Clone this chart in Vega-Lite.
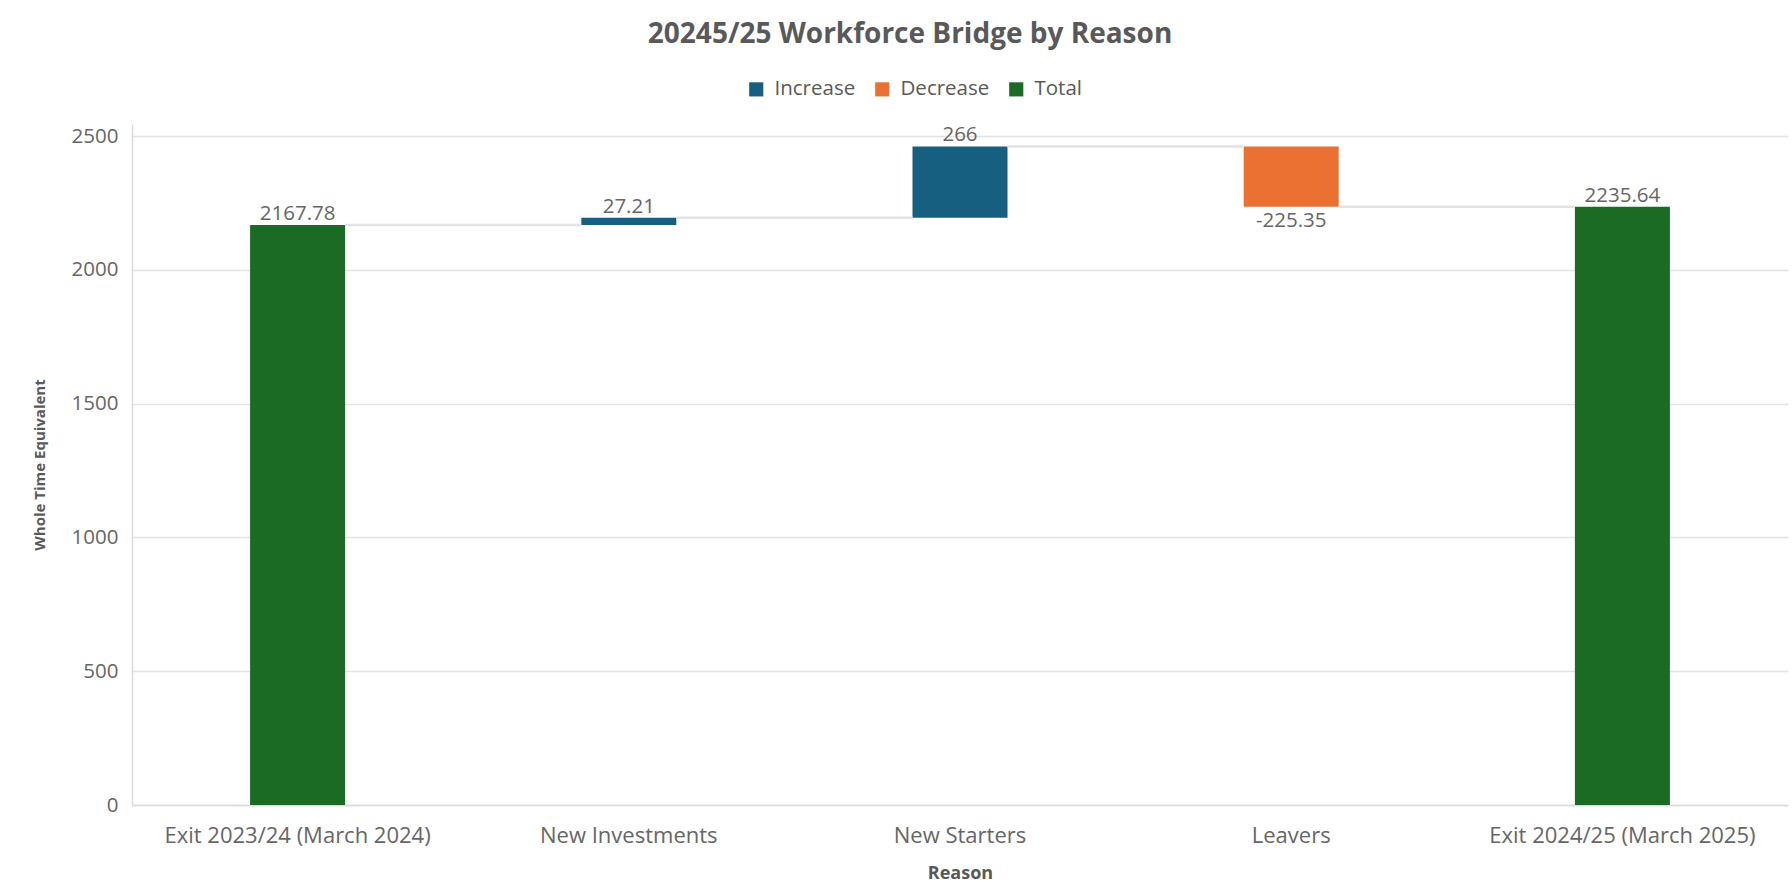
{
  "$schema": "https://vega.github.io/schema/vega-lite/v6.json",
  "autosize": {"type": "none"},
  "width": 1656,
  "height": 681,
  "padding": {"left": 132, "top": 124, "right": 4, "bottom": 88},
  "background": "white",
  "title": {
    "text": "20245/25 Workforce Bridge by Reason",
    "font": "Open Sans",
    "fontSize": 28,
    "fontWeight": "bold",
    "color": "#595959",
    "anchor": "middle",
    "frame": "bounds",
    "offset": 30
  },
  "datasets": {
    "bars": [
      {"Reason": "Exit 2023/24 (March 2024)", "type": "Total", "start": 0, "end": 2167.78, "label": "2167.78", "pos": "above"},
      {"Reason": "New Investments", "type": "Increase", "start": 2167.78, "end": 2194.99, "label": "27.21", "pos": "above"},
      {"Reason": "New Starters", "type": "Increase", "start": 2194.99, "end": 2460.99, "label": "266", "pos": "above"},
      {"Reason": "Leavers", "type": "Decrease", "start": 2460.99, "end": 2235.64, "label": "-225.35", "pos": "below"},
      {"Reason": "Exit 2024/25 (March 2025)", "type": "Total", "start": 0, "end": 2235.64, "label": "2235.64", "pos": "above"}
    ],
    "links": [
      {"from": "Exit 2023/24 (March 2024)", "to": "New Investments", "level": 2167.78},
      {"from": "New Investments", "to": "New Starters", "level": 2194.99},
      {"from": "New Starters", "to": "Leavers", "level": 2460.99},
      {"from": "Leavers", "to": "Exit 2024/25 (March 2025)", "level": 2235.64}
    ]
  },
  "config": {
    "view": {"stroke": null},
    "font": "Open Sans",
    "axis": {
      "labelFont": "Open Sans",
      "labelColor": "#666666",
      "titleFont": "Open Sans",
      "titleColor": "#595959",
      "gridColor": "#e3e3e3",
      "gridWidth": 1.5,
      "domainColor": "#d9d9d9",
      "domainWidth": 1.5,
      "ticks": false
    }
  },
  "layer": [
    {
      "data": {"name": "bars"},
      "mark": {"type": "bar", "width": 95},
      "encoding": {
        "x": {
          "field": "Reason",
          "type": "nominal",
          "scale": {
            "domain": ["Exit 2023/24 (March 2024)", "New Investments", "New Starters", "Leavers", "Exit 2024/25 (March 2025)"],
            "paddingInner": 0,
            "paddingOuter": 0
          },
          "axis": {
            "title": "Reason",
            "titleFontSize": 18,
            "titleFontWeight": "bold",
            "titlePadding": 18,
            "labelAngle": 0,
            "labelAlign": "center",
            "labelBaseline": "top",
            "labelFontSize": 22,
            "labelPadding": 20,
            "labelLimit": 500,
            "bandPosition": 0.5,
            "grid": false
          }
        },
        "y": {
          "field": "start",
          "type": "quantitative",
          "scale": {"domain": [0, 2545], "nice": false},
          "axis": {
            "title": "Whole Time Equivalent",
            "titleFontSize": 15,
            "titleFontWeight": "bold",
            "titlePadding": 24,
            "labelFontSize": 20.5,
            "labelPadding": 14,
            "values": [0, 500, 1000, 1500, 2000, 2500],
            "format": "d",
            "grid": true
          }
        },
        "y2": {"field": "end"},
        "color": {
          "field": "type",
          "type": "nominal",
          "scale": {"domain": ["Increase", "Decrease", "Total"], "range": ["#175f80", "#ea7132", "#1c6b24"]},
          "legend": {
            "title": null,
            "orient": "none",
            "direction": "horizontal",
            "legendX": 614,
            "legendY": -45,
            "symbolType": "square",
            "symbolSize": 200,
            "symbolStrokeWidth": 0,
            "labelFont": "Open Sans",
            "labelFontSize": 20.5,
            "labelColor": "#595959",
            "columnPadding": 16,
            "labelOffset": 8
          }
        }
      }
    },
    {
      "data": {"name": "links"},
      "mark": {"type": "rule", "color": "#e3e3e3", "strokeWidth": 2.5, "xOffset": 47.5, "x2Offset": -47.5},
      "encoding": {
        "x": {"field": "from", "type": "nominal", "bandPosition": 0.5},
        "x2": {"field": "to", "bandPosition": 0.5},
        "y": {"field": "level", "type": "quantitative"}
      }
    },
    {
      "data": {"name": "bars"},
      "transform": [{"filter": "datum.pos === 'above'"}],
      "mark": {"type": "text", "baseline": "bottom", "dy": -1, "fontSize": 20.5, "color": "#666666", "font": "Open Sans"},
      "encoding": {
        "x": {"field": "Reason", "type": "nominal"},
        "y": {"field": "end", "type": "quantitative"},
        "text": {"field": "label"}
      }
    },
    {
      "data": {"name": "bars"},
      "transform": [{"filter": "datum.pos === 'below'"}],
      "mark": {"type": "text", "baseline": "top", "dy": 4, "fontSize": 20.5, "color": "#666666", "font": "Open Sans"},
      "encoding": {
        "x": {"field": "Reason", "type": "nominal"},
        "y": {"field": "end", "type": "quantitative"},
        "text": {"field": "label"}
      }
    }
  ]
}
